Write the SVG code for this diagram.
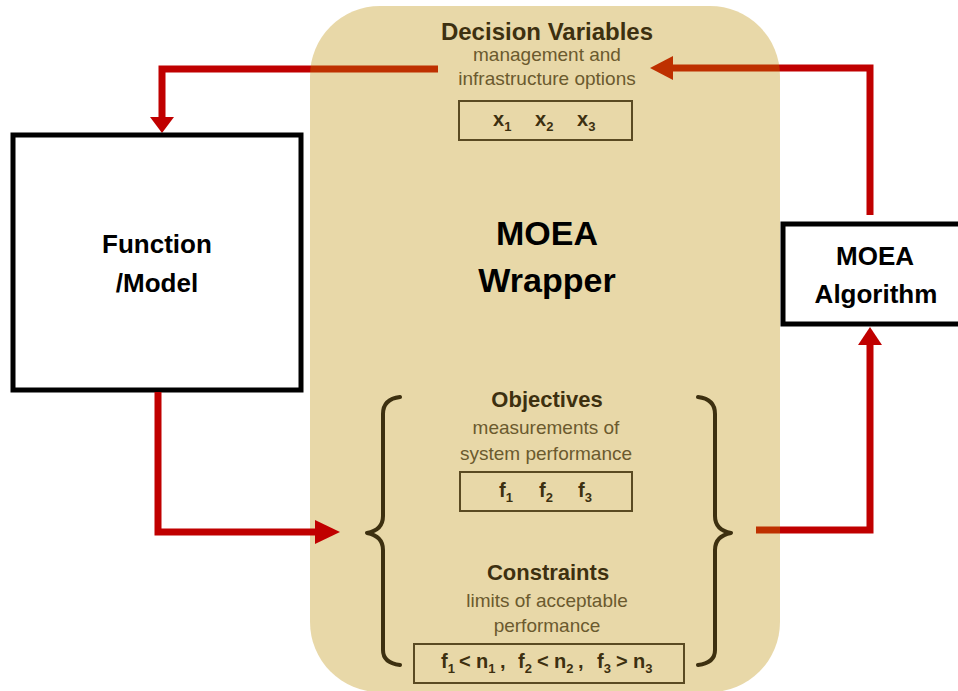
<svg xmlns="http://www.w3.org/2000/svg" width="958" height="691" viewBox="0 0 958 691">
<style>
.red{fill:none;stroke:#c00000;stroke-width:7;stroke-linejoin:miter;stroke-linecap:butt}
.head{fill:#c00000}
.box{fill:#fff;stroke:#000;stroke-width:5}
.nt{font-family:"Liberation Sans",Arial,sans-serif;font-weight:bold;fill:#000;text-anchor:middle}
.hd{font-family:"Liberation Sans",Arial,sans-serif;font-weight:bold;fill:#3d3010;text-anchor:middle}
.sub{font-family:"Liberation Sans",Arial,sans-serif;font-size:19px;fill:#6b5a2e;text-anchor:middle}
.var{font-family:"Liberation Sans",Arial,sans-serif;font-size:20px;font-weight:bold;fill:#3d3010}
.s{font-size:13px}
.vbox{fill:none;stroke:#5a4a22;stroke-width:2}
.brace{fill:none;stroke:#3d3010;stroke-width:4;stroke-linecap:round;stroke-linejoin:round}
</style>
<rect width="958" height="691" fill="#fff"/>
<g id="connectors-under">
<path class="red" d="M438 69 H162 V118"/>
<polygon class="head" points="150,117 174,117 162,133"/>
<path class="red" d="M870 215 V68 H670"/>
<polygon class="head" points="673,56 673,80 650,68"/>
<path class="red" d="M756 530 H870 V343"/>
<polygon class="head" points="858,345 882,345 870,327"/>
</g>
<g id="wrapper">
<rect x="310" y="6" width="470" height="686" rx="70" ry="70" fill="rgb(187,140,0)" fill-opacity="0.34"/>
<text class="hd" x="547" y="40" font-size="24">Decision Variables</text>
<text class="sub" x="547" y="61">management and</text>
<text class="sub" x="547" y="85">infrastructure options</text>
<rect class="vbox" x="459" y="101" width="173" height="39"/>
<text class="var" y="126"><tspan x="493">x</tspan><tspan class="s" dy="5">1</tspan><tspan x="535" dy="-5">x</tspan><tspan class="s" dy="5">2</tspan><tspan x="577" dy="-5">x</tspan><tspan class="s" dy="5">3</tspan></text>
<text class="nt" x="547" y="245" font-size="34">MOEA</text>
<text class="nt" x="547" y="292" font-size="34">Wrapper</text>
<text class="hd" x="547" y="407" font-size="22">Objectives</text>
<text class="sub" x="546" y="434">measurements of</text>
<text class="sub" x="546" y="460">system performance</text>
<rect class="vbox" x="460" y="472" width="172" height="39"/>
<text class="var" y="497"><tspan x="499">f</tspan><tspan class="s" dy="5">1</tspan><tspan x="539" dy="-5">f</tspan><tspan class="s" dy="5">2</tspan><tspan x="578" dy="-5">f</tspan><tspan class="s" dy="5">3</tspan></text>
<text class="hd" x="548" y="580" font-size="22">Constraints</text>
<text class="sub" x="547" y="607">limits of acceptable</text>
<text class="sub" x="547" y="632">performance</text>
<rect class="vbox" x="414" y="644" width="270" height="39"/>
<text class="var" y="668"><tspan x="441">f</tspan><tspan class="s" dy="5">1</tspan><tspan x="459" dy="-5">&lt;</tspan><tspan x="476">n</tspan><tspan class="s" dy="5">1</tspan><tspan x="500" dy="-5">,</tspan><tspan x="518">f</tspan><tspan class="s" dy="5">2</tspan><tspan x="537" dy="-5">&lt;</tspan><tspan x="554">n</tspan><tspan class="s" dy="5">2</tspan><tspan x="578" dy="-5">,</tspan><tspan x="597">f</tspan><tspan class="s" dy="5">3</tspan><tspan x="616" dy="-5">&gt;</tspan><tspan x="633">n</tspan><tspan class="s" dy="5">3</tspan></text>
<path class="brace" d="M400 397 Q383 399 383 414 V516 Q383 530 367 533 Q383 536 383 550 V650 Q383 663 400 665"/>
<path class="brace" d="M698 397 Q715 399 715 414 V516 Q715 530 731 533 Q715 536 715 550 V650 Q715 663 698 665"/>
</g>
<g id="function-model">
<rect class="box" x="13" y="135" width="288" height="255"/>
<text class="nt" x="157" y="253" font-size="26">Function</text>
<text class="nt" x="157" y="292" font-size="26">/Model</text>
</g>
<g id="moea-algorithm">
<rect class="box" x="783" y="224" width="180" height="100"/>
<text class="nt" x="875" y="265" font-size="26">MOEA</text>
<text class="nt" x="876" y="303" font-size="26">Algorithm</text>
</g>
<g id="connectors-over">
<path class="red" d="M158 392 V532 H316"/>
<polygon class="head" points="315,520 315,544 340,532"/>
</g>
</svg>
